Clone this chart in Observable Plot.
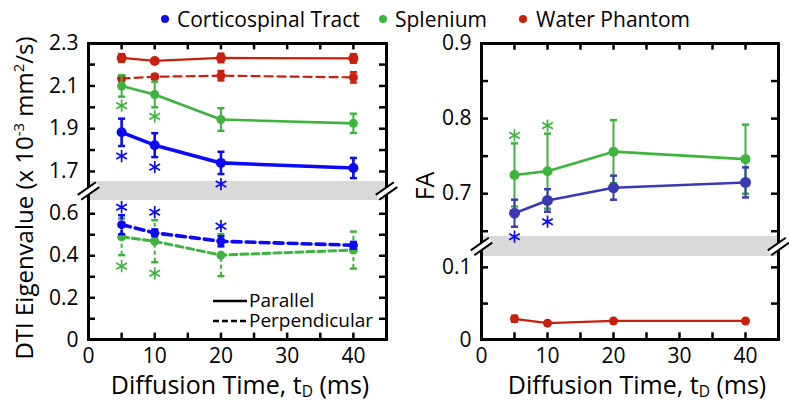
<!DOCTYPE html>
<html><head><meta charset="utf-8">
<script src="https://cdn.jsdelivr.net/npm/d3@7"></script>
<script src="https://cdn.jsdelivr.net/npm/@observablehq/plot@0.6"></script>
<style>
body{margin:0;background:#fff;}
#wrap{position:relative;width:789px;height:400px;overflow:hidden;font-family:"Open Sans",sans-serif;color:#000;}
.abs{position:absolute;white-space:nowrap;}
.plot{position:absolute;top:0;}
sup,sub{font-size:62%;line-height:0;}
sub{vertical-align:-0.2em;}
</style></head><body><div id="wrap"></div>
<script>
// ---------- data ----------
const times = [5, 10, 20, 40];
const seriesNames = ["Corticospinal Tract", "Splenium", "Water Phantom"];

// Left panel: DTI eigenvalues (x 10^-3 mm^2/s)
const cstPar = [1.883, 1.823, 1.740, 1.716];
const cstParErr = [0.064, 0.056, 0.052, 0.047];
const splPar = [2.100, 2.060, 1.943, 1.925];
const splParErr = [0.050, 0.060, 0.053, 0.045];
const watPar = [2.231, 2.217, 2.231, 2.229];
const watParErr = [0.018, 0.008, 0.020, 0.020];
const watPerp = [2.135, 2.143, 2.148, 2.140];
const watPerpErr = [0.013, 0.010, 0.022, 0.024];
const cstPerp = [0.548, 0.509, 0.469, 0.450];
const cstPerpErr = [0.045, 0.016, 0.024, 0.016];
const splPerp = [0.490, 0.469, 0.403, 0.427];
const splPerpErr = [0.087, 0.100, 0.100, 0.088];

// Right panel: FA
const cstFA = [0.674, 0.691, 0.708, 0.715];
const cstFAErr = [0.018, 0.015, 0.016, 0.020];
const splFA = [0.725, 0.730, 0.756, 0.746];
const splFAErr = [0.042, 0.050, 0.042, 0.046];
const watFA = [0.029, 0.023, 0.026, 0.026];
const watFAErr = [0.004, 0.001, 0.001, 0.001];

// significance markers (asterisks)
const cstParSig = [true, true, true, false];
const splParSig = [true, true, false, false];
const cstPerpSig = [true, true, true, false];
const splPerpSig = [true, true, false, false];
const cstFASig = [true, true, false, false];
const splFASig = [true, true, false, false];

// axis breaks and ticks
const leftDomain = [0, 0.663, 1.653, 2.3];
const leftTicks = [0, 0.1, 0.2, 0.3, 0.4, 0.5, 0.6, 1.7, 1.8, 1.9, 2.0, 2.1, 2.2, 2.3];
const leftLabels = [0, 0.2, 0.4, 0.6, 1.7, 1.9, 2.1, 2.3];
const rightDomain = [0, 0.115, 0.643, 0.9];
const rightTicks = [0, 0.05, 0.1, 0.65, 0.7, 0.75, 0.8, 0.85, 0.9];
const rightLabels = [0, 0.1, 0.7, 0.8, 0.9];
const xTicks = [0, 5, 10, 15, 20, 25, 30, 35, 40, 45];
const xLabels = [0, 10, 20, 30, 40];

// ---------- styles ----------
const BLUE = "#0a0af5", GREEN = "#3db43d", RED = "#c8200c", FABLUE = "#3a3ab5";
const FONT = "Open Sans";

const capSymbol = {draw(ctx, size) {const w = Math.sqrt(size / Math.PI); ctx.moveTo(-w, 0); ctx.lineTo(w, 0);}};
const ang = 35 * Math.PI / 180, L = 11, S = 3;
const ux = Math.cos(ang), uy = -Math.sin(ang), nx = Math.sin(ang), ny = Math.cos(ang);
const breakLines = {draw(ctx) {
  for (const s of [-S, S]) {
    ctx.moveTo(-L * ux + s * nx, -L * uy + s * ny);
    ctx.lineTo(L * ux + s * nx, L * uy + s * ny);
  }
}};
const breakFill = {draw(ctx) {
  const s = S - 0.6;
  ctx.moveTo(-L * ux - s * nx, -L * uy - s * ny);
  ctx.lineTo(L * ux - s * nx, L * uy - s * ny);
  ctx.lineTo(L * ux + s * nx, L * uy + s * ny);
  ctx.lineTo(-L * ux + s * nx, -L * uy + s * ny);
  ctx.closePath();
}};

function rows(values, errs) {
  return times.map((t, i) => ({t, v: values[i], lo: values[i] - errs[i], hi: values[i] + errs[i]}));
}
function seriesMarks(values, errs, color, {lw = 2.5, dash = null, r = 4.5, ew = 2, cap = 3.5} = {}) {
  const d = rows(values, errs);
  return [
    Plot.ruleX(d, {x: "t", y1: "lo", y2: "hi", stroke: color, strokeWidth: ew, strokeDasharray: dash ? "4,3" : null}),
    Plot.dot(d, {x: "t", y: "lo", symbol: capSymbol, r: cap, stroke: color, fill: "none", strokeWidth: 2.5}),
    Plot.dot(d, {x: "t", y: "hi", symbol: capSymbol, r: cap, stroke: color, fill: "none", strokeWidth: 2.5}),
    Plot.line(d, {x: "t", y: "v", stroke: color, strokeWidth: lw, strokeDasharray: dash}),
    Plot.dot(d, {x: "t", y: "v", r, fill: color})
  ];
}
function starMarks(anchorY, sig, color, dy) {
  const d = times.map((t, i) => ({t, y: anchorY[i]})).filter((_, i) => sig[i]);
  return Plot.dot(d, {x: "t", y: "y", dy, symbol: "asterisk", r: 5.8, stroke: color, strokeWidth: 1.7});
}
function frameMarks(W, H, gapLo, gapHi, ticks, labels) {
  const mid = (gapLo + gapHi) / 2;
  return [
    Plot.frame({stroke: "black", strokeWidth: 3}),
    Plot.tickY(ticks, {y: d => d, insetRight: W - 7, stroke: "black", strokeWidth: 2.5}),
    Plot.tickY(ticks, {y: d => d, insetLeft: W - 7, stroke: "black", strokeWidth: 2.5}),
    Plot.tickX(xTicks, {x: d => d, insetBottom: H - 7, stroke: "black", strokeWidth: 2.5}),
    Plot.tickX(xTicks, {x: d => d, insetTop: H - 7, stroke: "black", strokeWidth: 2.5}),
    Plot.axisY({ticks: labels, tickSize: 0, tickPadding: 10, fontSize: 21, label: null,
      tickFormat: d => d === 0 ? "0" : d.toFixed(1)}),
    Plot.axisX({ticks: xLabels, tickSize: 0, tickPadding: 9, fontSize: 21, label: null, tickFormat: d => String(d)}),
    Plot.dot([mid], {y: d => d, frameAnchor: "left", symbol: breakFill, r: 5, fill: "white", stroke: "none"}),
    Plot.dot([mid], {y: d => d, frameAnchor: "left", symbol: breakLines, r: 5, fill: "none", stroke: "black", strokeWidth: 2}),
    Plot.dot([mid], {y: d => d, frameAnchor: "right", symbol: breakFill, r: 5, fill: "white", stroke: "none"}),
    Plot.dot([mid], {y: d => d, frameAnchor: "right", symbol: breakLines, r: 5, fill: "none", stroke: "black", strokeWidth: 2})
  ];
}

// ---------- left panel ----------
const perpTop = times.map((_, i) => Math.max(cstPerp[i] + cstPerpErr[i], splPerp[i] + splPerpErr[i]));
const left = Plot.plot({
  width: 400, height: 400,
  marginLeft: 88, marginRight: 14, marginTop: 43, marginBottom: 61,
  style: {fontFamily: FONT, fontSize: "21px", background: "transparent", overflow: "visible"},
  x: {domain: [0, 45]},
  y: {type: "linear", domain: leftDomain, range: [339.3, 200, 181, 42.7]},
  marks: [
    Plot.rect([0], {y1: leftDomain[1], y2: leftDomain[2], fill: "#d9d9d9"}),
    ...seriesMarks(watPerp, watPerpErr, RED, {lw: 2.2, dash: "8,5", r: 4.5}),
    ...seriesMarks(watPar, watParErr, RED, {lw: 2.2, r: 5}),
    ...seriesMarks(splPar, splParErr, GREEN, {lw: 2.6, r: 4.5}),
    ...seriesMarks(cstPar, cstParErr, BLUE, {lw: 3.6, r: 5, ew: 2.6}),
    ...seriesMarks(splPerp, splPerpErr, GREEN, {lw: 3, dash: "7,4", r: 4.5}),
    ...seriesMarks(cstPerp, cstPerpErr, BLUE, {lw: 3.6, dash: "9,5", r: 4.5, ew: 2.6}),
    starMarks(cstPar.map((v, i) => v - cstParErr[i]), cstParSig, BLUE, 10),
    starMarks(splPar.map((v, i) => v - splParErr[i]), splParSig, GREEN, 9),
    starMarks(perpTop, cstPerpSig, BLUE, -8),
    starMarks(splPerp.map((v, i) => v - splPerpErr[i]), splPerpSig, GREEN, 11),
    ...frameMarks(298, 296.6, leftDomain[1], leftDomain[2], leftTicks, leftLabels)
  ]
});

// ---------- right panel ----------
const right = Plot.plot({
  width: 389, height: 400,
  marginLeft: 81, marginRight: 11, marginTop: 43, marginBottom: 61,
  style: {fontFamily: FONT, fontSize: "21px", background: "transparent", overflow: "visible"},
  x: {domain: [0, 45]},
  y: {type: "linear", domain: rightDomain, range: [339.3, 256, 236, 43]},
  marks: [
    Plot.rect([0], {y1: rightDomain[1], y2: rightDomain[2], fill: "#d9d9d9"}),
    ...seriesMarks(watFA, watFAErr, RED, {lw: 2.2, r: 4.5}),
    ...seriesMarks(splFA, splFAErr, GREEN, {lw: 2.6, r: 5}),
    ...seriesMarks(cstFA, cstFAErr, FABLUE, {lw: 2.6, r: 5.5}),
    starMarks(splFA.map((v, i) => v + splFAErr[i]), splFASig, GREEN, -8),
    starMarks(cstFA.map((v, i) => v - cstFAErr[i]), cstFASig, BLUE, 10),
    ...frameMarks(297, 296.3, rightDomain[1], rightDomain[2], rightTicks, rightLabels)
  ]
});

// ---------- assemble ----------
const wrap = document.getElementById("wrap");
left.classList.add("plot"); left.style.left = "0px";
right.classList.add("plot"); right.style.left = "400px";
wrap.appendChild(left); wrap.appendChild(right);

function addDiv(html, css) {
  const d = document.createElement("div");
  d.className = "abs"; d.innerHTML = html; d.style.cssText += css;
  wrap.appendChild(d); return d;
}
// top legend
const legendColors = [BLUE, GREEN, RED];
const legendDotX = [165, 383, 523];
const legendTextX = [177, 395, 536];
seriesNames.forEach((name, i) => {
  addDiv("", `left:${legendDotX[i] - 4}px;top:15px;width:8px;height:8px;border-radius:50%;background:${legendColors[i]};`);
  addDiv(name, `left:${legendTextX[i]}px;top:8px;font-size:21px;line-height:22px;`);
});
// line-style legend
const ls = document.createElementNS("http://www.w3.org/2000/svg", "svg");
ls.setAttribute("width", "40"); ls.setAttribute("height", "30");
ls.style.cssText = "position:absolute;left:211px;top:293px;";
ls.innerHTML = '<line x1="2" x2="36" y1="8" y2="8" stroke="black" stroke-width="2.5"/>' +
  '<line x1="2" x2="36" y1="28" y2="28" stroke="black" stroke-width="2.5" stroke-dasharray="6,3"/>';
wrap.appendChild(ls);
addDiv("Parallel<br>Perpendicular", "left:249px;top:291px;font-size:19px;line-height:19.5px;");
// axis titles
addDiv("DTI Eigenvalue (x 10<sup>-3</sup> mm<sup>2</sup>/s)", "left:24px;top:198px;font-size:24px;line-height:26px;transform:translate(-50%,-50%) rotate(-90deg);");
addDiv("FA", "left:424px;top:186px;font-size:25px;line-height:26px;transform:translate(-50%,-50%) rotate(-90deg);");
addDiv("Diffusion Time, t<sub>D</sub> (ms)", "left:240px;top:384px;font-size:25px;line-height:22px;transform:translate(-50%,-50%);");
addDiv("Diffusion Time, t<sub>D</sub> (ms)", "left:637px;top:384px;font-size:25px;line-height:22px;transform:translate(-50%,-50%);");
</script></body></html>
